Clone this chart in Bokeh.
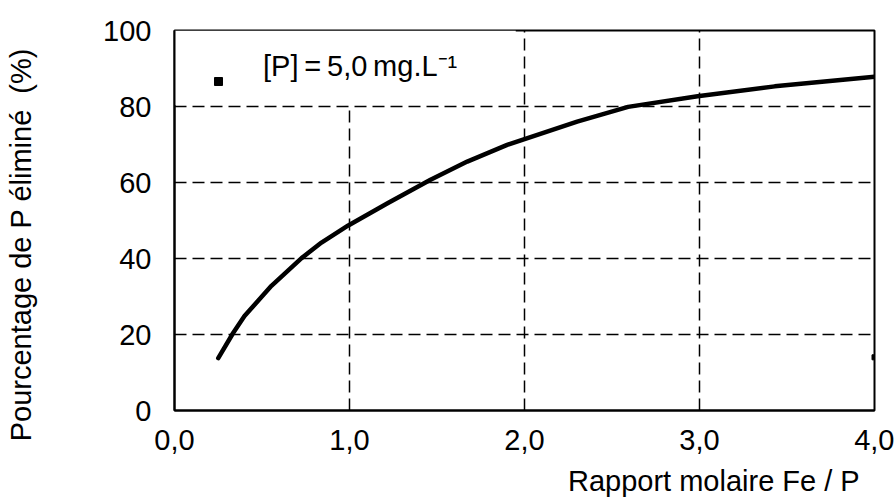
from bokeh.plotting import figure
from bokeh.models import (Range1d, FixedTicker, Legend, LegendItem,
                          BoxAnnotation)
from bokeh.embed import file_html
from bokeh.resources import INLINE

# --- data ---
ratio = [0.25, 0.335, 0.40, 0.554, 0.726, 0.84, 0.993, 1.22, 1.463, 1.673,
         1.901, 2.301, 2.592, 2.989, 3.43, 4.0]
removal = [13.8, 20.4, 24.9, 32.8, 40.1, 44.2, 48.7, 54.6, 60.7, 65.5,
           69.9, 76.0, 79.9, 82.7, 85.3, 87.8]
marker_x = [4.0]
marker_y = [14.0]
x_ticks = [0, 1, 2, 3, 4]
x_tick_labels = ["0,0", "1,0", "2,0", "3,0", "4,0"]
y_ticks = [0, 20, 40, 60, 80, 100]
legend_text = "[P]\u2009=\u20095,0\u2009mg.L\u207b\u00b9"
x_title = "Rapport molaire Fe / P"
y_title = "Pourcentage de P éliminé\u00a0 (%)"

FONT = "Liberation Sans"
FS = "29px"
NB = "\u00a0"

p = figure(width=894, height=499, output_backend="svg", toolbar_location=None,
           x_range=Range1d(0, 4), y_range=Range1d(0, 100),
           min_border_left=174, min_border_right=20,
           min_border_top=30, min_border_bottom=87)
p.background_fill_color = "white"
p.border_fill_color = "white"
p.outline_line_color = "black"
p.outline_line_width = 2

for ax in (p.xaxis[0], p.yaxis[0]):
    ax.axis_line_color = "black"
    ax.axis_line_width = 2
    ax.major_tick_line_color = None
    ax.minor_tick_line_color = None
    ax.major_label_text_font = FONT
    ax.major_label_text_font_size = FS
    ax.major_label_text_color = "black"
    ax.axis_label_text_font = FONT
    ax.axis_label_text_font_size = FS
    ax.axis_label_text_font_style = "normal"
    ax.axis_label_text_color = "black"

p.xaxis.ticker = FixedTicker(ticks=x_ticks)
p.xaxis.major_label_overrides = {t: l for t, l in zip(x_ticks, x_tick_labels)}
p.xaxis.major_label_standoff = 13
p.yaxis.ticker = FixedTicker(ticks=y_ticks)
p.yaxis.major_label_standoff = 17

# axis titles (reference places them off-centre: pad with no-break spaces)
xa = p.xaxis[0]
xa.axis_label = NB * 47 + x_title
xa.axis_label_standoff = 12

ya = p.yaxis[0]
ya.axis_label = y_title + NB * 6
ya.axis_label_standoff = 63

p.xgrid.ticker = FixedTicker(ticks=[1, 2, 3])
p.ygrid.ticker = FixedTicker(ticks=[20, 40, 60, 80])
for g in (p.xgrid[0], p.ygrid[0]):
    g.grid_line_color = "black"
    g.grid_line_width = 1.5
    g.grid_line_dash = "12 6"

# white legend area hiding grid lines
p.add_layout(BoxAnnotation(left=0, right=1.95, bottom=80.4, top=100,
                           fill_color="white", fill_alpha=1,
                           line_color=None, level="underlay"))

p.line(ratio, removal, line_color="black", line_width=4.5,
       line_join="round", line_cap="round")
pts = p.scatter(marker_x, marker_y, marker="square", size=5,
                fill_color="black", line_color="black")

legend = Legend(items=[LegendItem(label=legend_text + "\n" + NB,
                                  renderers=[pts])],
                location=(34, 293), padding=0, margin=0, spacing=0,
                glyph_width=20, glyph_height=34, label_standoff=35,
                background_fill_alpha=0, border_line_color=None,
                label_text_font=FONT, label_text_font_size=FS,
                label_text_color="black", label_text_line_height=0.7)
p.add_layout(legend)

open("out.html", "w").write(file_html(p, INLINE))
